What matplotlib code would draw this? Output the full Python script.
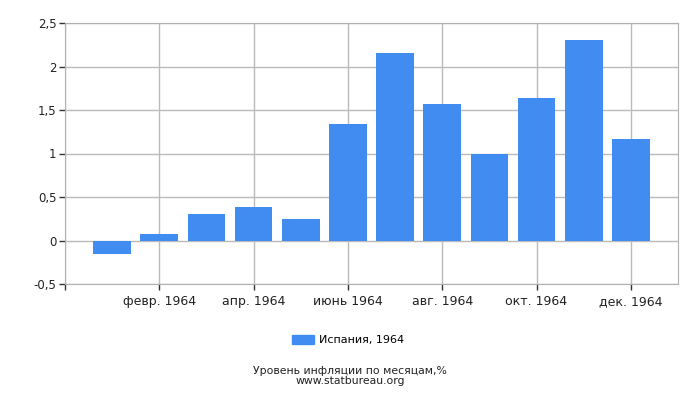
import matplotlib
matplotlib.use("Agg")
import matplotlib.pyplot as plt
from matplotlib.patches import Patch

months = [1, 2, 3, 4, 5, 6, 7, 8, 9, 10, 11, 12]
values = [-0.15, 0.07, 0.31, 0.38, 0.25, 1.34, 2.15, 1.57, 0.99, 1.64, 2.31, 1.17]
tick_pos = [2, 4, 6, 8, 10, 12]
tick_labels = ["февр. 1964", "апр. 1964", "июнь 1964", "авг. 1964", "окт. 1964", "дек. 1964"]
yticks = [-0.5, 0, 0.5, 1, 1.5, 2, 2.5]
ytick_labels = ["-0,5", "0", "0,5", "1", "1,5", "2", "2,5"]
series_name = "Испания, 1964"
title = "Уровень инфляции по месяцам,%"
source = "www.statbureau.org"

color = "#418CF0"
plt.rcParams["font.family"] = ["DejaVu Sans"]

fig = plt.figure(figsize=(7, 4), dpi=100)
ax = fig.add_axes([65/700, 1-284/400, (678-65)/700, (284-23)/400])
ax.bar(months, values, width=0.8, color=color, zorder=3)
ax.set_xlim(0, 13)
ax.set_ylim(-0.5, 2.5)
ax.set_xticks([0] + tick_pos)
ax.set_xticklabels([""] + tick_labels, fontsize=9, color="#222222")
ax.set_yticks(yticks)
ax.set_yticklabels(ytick_labels, fontsize=8.5, color="#222222")
ax.grid(True, color="#bbbbbb", linewidth=1, zorder=0)
for s in ax.spines.values():
    s.set_color("#b0b0b0")
ax.tick_params(axis="both", length=4, color="#333333", width=1)
ax.tick_params(axis="x", pad=4)
ax.tick_params(axis="y", pad=2)

fig.legend(handles=[Patch(color=color, label=series_name)], loc="center",
           bbox_to_anchor=(348/700, 1-340/400), frameon=False, fontsize=8,
           handlelength=2.0, handleheight=0.9, handletextpad=0.4)
fig.text(350/700, 1-371/400, title, ha="center", va="center", fontsize=7.8, color="#222222")
fig.text(350/700, 1-381/400, source, ha="center", va="center", fontsize=7.8, color="#222222")

fig.savefig("out.png", dpi=100)
